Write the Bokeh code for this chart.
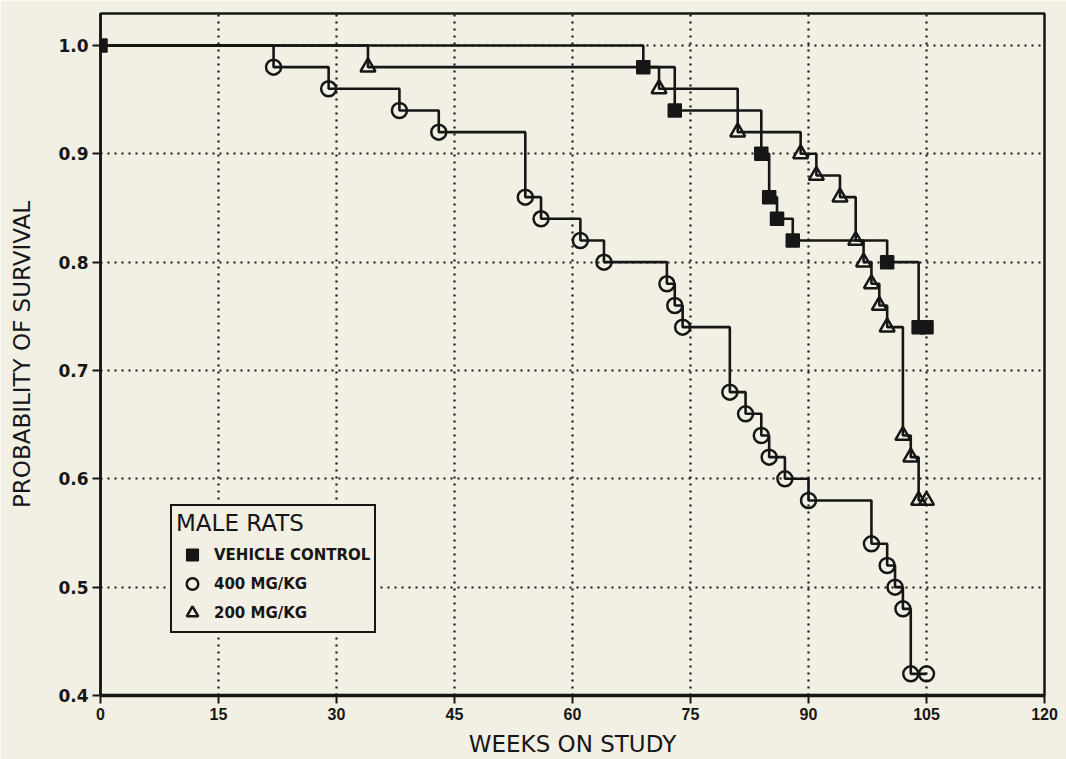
from bokeh.plotting import figure
from bokeh.models import Range1d, FixedTicker, PrintfTickFormatter, Legend, LegendItem
from bokeh.embed import file_html
from bokeh.resources import INLINE

# Kaplan-Meier survival data
weeks_control = [0, 69, 73, 84, 85, 86, 88, 100, 104, 105]
surv_control = [1.00, 0.98, 0.94, 0.90, 0.86, 0.84, 0.82, 0.80, 0.74, 0.74]

weeks_400 = [0, 22, 29, 38, 43, 54, 56, 61, 64, 72, 73, 74, 80, 82, 84, 85, 87,
             90, 98, 100, 101, 102, 103, 105]
surv_400 = [1.00, 0.98, 0.96, 0.94, 0.92, 0.86, 0.84, 0.82, 0.80, 0.78, 0.76, 0.74,
            0.68, 0.66, 0.64, 0.62, 0.60, 0.58, 0.54, 0.52, 0.50, 0.48, 0.42, 0.42]

weeks_200 = [0, 34, 71, 81, 89, 91, 94, 96, 97, 98, 99, 100, 102, 103, 104, 105]
surv_200 = [1.00, 0.98, 0.96, 0.92, 0.90, 0.88, 0.86, 0.82, 0.80, 0.78, 0.76, 0.74,
            0.64, 0.62, 0.58, 0.58]

x_ticks = [0, 15, 30, 45, 60, 75, 90, 105, 120]
y_ticks = [0.4, 0.5, 0.6, 0.7, 0.8, 0.9, 1.0]

BG = "#f2f0e4"
INK = "#161616"

p = figure(width=1066, height=759,
           x_range=Range1d(0, 120), y_range=Range1d(0.4, 1.0295),
           output_backend="svg", toolbar_location=None,
           min_border_left=100, min_border_right=22,
           min_border_top=13, min_border_bottom=64)

p.background_fill_color = BG
p.border_fill_color = BG
p.outline_line_color = INK
p.outline_line_width = 2.5

# grid
for g in (p.xgrid, p.ygrid):
    g.grid_line_color = INK
    g.grid_line_dash = "2 5"
    g.grid_line_width = 2.2
p.xgrid.ticker = FixedTicker(ticks=x_ticks[1:-1])
p.ygrid.ticker = FixedTicker(ticks=y_ticks[1:])

# axes
p.xaxis.ticker = FixedTicker(ticks=x_ticks)
p.yaxis.ticker = FixedTicker(ticks=y_ticks)
p.yaxis.formatter = PrintfTickFormatter(format="%.1f")
for ax in (p.xaxis, p.yaxis):
    ax.axis_line_color = INK
    ax.major_tick_line_color = INK
    ax.major_tick_line_width = 2
    ax.major_tick_out = 8
    ax.major_tick_in = 0
    ax.minor_tick_line_color = None
    ax.major_label_text_color = INK
    ax.axis_label_text_color = INK
    ax.axis_label_text_font = "DejaVu Sans"
    ax.axis_label_text_font_style = "normal"
    ax.axis_label_text_font_size = "23px"
p.xaxis.axis_line_width = 3.5
p.yaxis.axis_line_width = 2.5
p.xaxis.major_label_text_font = "Liberation Sans"
p.xaxis.major_label_text_font_style = "bold"
p.xaxis.major_label_text_font_size = "16px"
p.xaxis.major_label_standoff = 4
p.yaxis.major_label_text_font = "DejaVu Sans"
p.yaxis.major_label_text_font_style = "bold"
p.yaxis.major_label_text_font_size = "17px"
p.yaxis.major_label_standoff = 4
p.xaxis.axis_label = "WEEKS ON STUDY"
p.yaxis.axis_label = "PROBABILITY OF SURVIVAL"
p.xaxis.axis_label_standoff = 8
p.yaxis.axis_label_standoff = 20

# step lines
for wx, sy in ((weeks_control, surv_control), (weeks_400, surv_400), (weeks_200, surv_200)):
    p.step(wx, sy, mode="after", line_color=INK, line_width=2.6)

# markers
r_ctrl = p.scatter(weeks_control, surv_control, marker="square", size=13,
                   fill_color=INK, line_color=INK, line_width=1.5)
r_400 = p.scatter(weeks_400[1:], surv_400[1:], marker="circle", size=15,
                  fill_alpha=0, line_color=INK, line_width=2.5)
r_200 = p.scatter(weeks_200[1:], surv_200[1:], marker="triangle", size=15,
                  fill_alpha=0, line_color=INK, line_width=2.5)

legend = Legend(items=[LegendItem(label="VEHICLE CONTROL", renderers=[r_ctrl]),
                       LegendItem(label="400 MG/KG", renderers=[r_400]),
                       LegendItem(label="200 MG/KG", renderers=[r_200])],
                location=(70, 62), title="MALE RATS")
legend.title_text_font = "DejaVu Sans"
legend.title_text_font_size = "23px"
legend.title_text_font_style = "normal"
legend.title_text_color = INK
legend.title_standoff = 4
legend.label_text_font = "DejaVu Sans"
legend.label_text_font_style = "bold"
legend.label_text_font_size = "15px"
legend.label_text_color = INK
legend.label_standoff = 6
legend.label_height = 29
legend.glyph_height = 29
legend.glyph_width = 32
legend.spacing = 0
legend.padding = 4
legend.margin = 0
legend.border_line_color = INK
legend.border_line_width = 2.5
legend.border_line_alpha = 1
legend.background_fill_color = BG
legend.background_fill_alpha = 1
p.add_layout(legend, "center")

open("out.html", "w").write(file_html(p, INLINE))
